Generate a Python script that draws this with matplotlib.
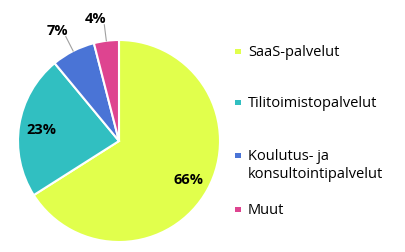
import numpy as np
import matplotlib.pyplot as plt

plt.rcParams['font.family'] = ['Open Sans', 'DejaVu Sans']

labels = ['SaaS-palvelut', 'Tilitoimistopalvelut',
          'Koulutus- ja\nkonsultointipalvelut', 'Muut']
values = [66, 23, 7, 4]
colors = ['#e1ff4c', '#31bfc1', '#4a74d6', '#de4490']

fig = plt.figure(figsize=(4.05, 2.53), dpi=100)
ax = fig.add_axes([119/405 - 101/405, 1 - 142/253 - 101/253, 202/405, 202/253])

wedges, _ = ax.pie(values, colors=colors, startangle=90, counterclock=False,
                   wedgeprops=dict(edgecolor='white', linewidth=1.5))
ax.set_xlim(-1, 1)
ax.set_ylim(-1, 1)
ax.set_aspect('equal')
ax.axis('off')

# percentage labels: big slices inside, small ones outside with a leader line
for w, v in zip(wedges, values):
    mid = np.deg2rad((w.theta1 + w.theta2) / 2)
    c, s = np.cos(mid), np.sin(mid)
    if v >= 10:
        ax.text(0.78 * c, 0.78 * s, f'{v}%', ha='center', va='center',
                fontsize=10.5, fontweight='bold')
    else:
        ax.plot([1.0 * c, 1.16 * c], [1.0 * s, 1.16 * s], color='#a0a0a0',
                lw=0.8, clip_on=False)
        ax.annotate(f'{v}%', (1.16 * c, 1.16 * s), xytext=(1.5, 0),
                    textcoords='offset points', ha='right', va='bottom',
                    fontsize=10.5, fontweight='bold', annotation_clip=False)

# legend
legend_y = [52, 103, 156, 210]
for lab, col, y in zip(labels, colors, legend_y):
    fy = 1 - y / 253
    fig.patches.append(plt.Rectangle((235/405, fy - 3/253), 5.5/405, 5.5/253,
                                     transform=fig.transFigure,
                                     facecolor=col, edgecolor='none'))
    fig.text(248/405, fy + 7/253, lab, ha='left', va='top', fontsize=10.5,
             linespacing=1.3)

fig.savefig('out.png', dpi=100)
